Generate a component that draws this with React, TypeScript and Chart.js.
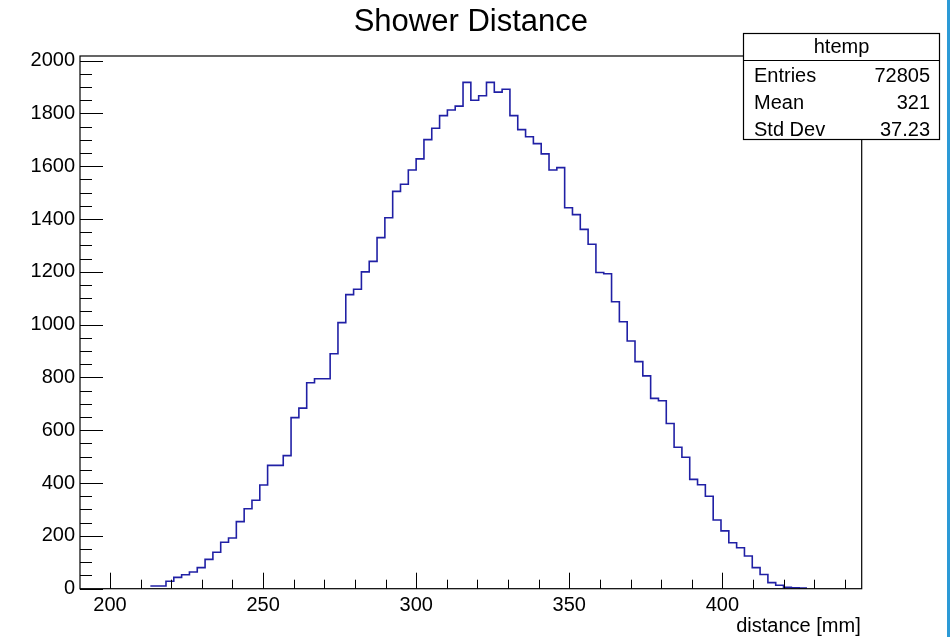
import React, { useEffect, useRef } from "react";
import { Chart, registerables } from "chart.js";

Chart.register(...registerables);

// ---- data ----
const titleText = "Shower Distance";
const xAxisTitle = "distance [mm]";
const xMin = 190.2;
const xMax = 445.5;
const nBins = 100;
const firstBin = 9;
const counts = [
  10, 10, 28, 43, 53, 63, 80, 111, 138, 176, 192, 254, 303, 335, 393, 467, 467, 504, 648, 684, 780,
  795, 795, 890, 1008, 1114, 1134, 1200, 1240, 1330, 1405, 1505, 1532, 1586, 1628, 1701, 1744, 1792, 1813, 1828,
  1918, 1850, 1867, 1918, 1881, 1892, 1792, 1739, 1712, 1686, 1647, 1586, 1595, 1443, 1417, 1361, 1305, 1198, 1193, 1087, 1011, 938, 860,
  806, 721, 712, 626, 536, 498, 414, 394, 350, 260, 219, 174, 155, 124, 80, 54, 23, 13, 5, 3, 2,
];
const yMax = 2017.8;
const xTicks = [200, 250, 300, 350, 400];
const yTicks = [0, 200, 400, 600, 800, 1000, 1200, 1400, 1600, 1800, 2000];
const xMinorStep = 10;
const yMinorStep = 50;
const statsName = "htemp";
const statsLabels = ["Entries", "Mean", "Std Dev"];
const statsValues = ["72805", "321", "37.23"];

const FONT = '"Liberation Sans", Arial, Helvetica, sans-serif';

export default function App() {
  const ref = useRef<HTMLCanvasElement | null>(null);

  useEffect(() => {
    const canvas = ref.current!;
    const binWidth = (xMax - xMin) / nBins;
    const pts = counts.map((c, i) => ({ x: xMin + (firstBin + i) * binWidth, y: c }));
    pts.push({ x: xMin + (firstBin + counts.length) * binWidth, y: counts[counts.length - 1] });

    const decor = {
      id: "rootDecor",
      beforeDraw(chart: any) {
        const ctx = chart.ctx;
        ctx.save();
        ctx.fillStyle = "#ffffff";
        ctx.fillRect(0, 0, chart.width, chart.height);
        ctx.restore();
      },
      afterDraw(chart: any) {
        const ctx = chart.ctx;
        const ca = chart.chartArea;
        const xs = chart.scales.x;
        const ys = chart.scales.y;
        ctx.save();
        // frame
        ctx.strokeStyle = "#000";
        ctx.lineWidth = 1.2;
        ctx.strokeRect(ca.left, ca.top, ca.right - ca.left, ca.bottom - ca.top);
        // y ticks
        ctx.lineWidth = 1;
        ctx.beginPath();
        for (let v = 0; v <= yMax + 1e-6; v += yMinorStep) {
          const y = Math.round(ys.getPixelForValue(v)) + 0.5;
          const major = yTicks.includes(v);
          ctx.moveTo(ca.left, y);
          ctx.lineTo(ca.left + (major ? 23 : 12), y);
        }
        // x ticks
        for (let v = Math.ceil(xMin / xMinorStep) * xMinorStep; v <= xMax; v += xMinorStep) {
          const x = Math.round(xs.getPixelForValue(v)) + 0.5;
          const major = xTicks.includes(v);
          ctx.moveTo(x, ca.bottom);
          ctx.lineTo(x, ca.bottom - (major ? 16 : 9));
        }
        ctx.stroke();

        // title
        ctx.fillStyle = "#000";
        ctx.font = `31px ${FONT}`;
        ctx.textAlign = "center";
        ctx.textBaseline = "alphabetic";
        ctx.fillText(titleText, (ca.left + ca.right) / 2, 31);

        // x axis title
        ctx.font = `20px ${FONT}`;
        ctx.textAlign = "right";
        ctx.fillText(xAxisTitle, ca.right - 1, 632);

        // stats box
        const bx = 743.5, by = 33.5, bw = 196, bh = 106;
        ctx.fillStyle = "#fff";
        ctx.fillRect(bx, by, bw, bh);
        ctx.strokeStyle = "#000";
        ctx.lineWidth = 1.2;
        ctx.strokeRect(bx, by, bw, bh);
        ctx.beginPath();
        ctx.moveTo(bx, 60.5);
        ctx.lineTo(bx + bw, 60.5);
        ctx.stroke();
        ctx.fillStyle = "#000";
        ctx.font = `20px ${FONT}`;
        ctx.textAlign = "center";
        ctx.fillText(statsName, bx + bw / 2, 53);
        const rowBase = [82, 109, 136];
        statsLabels.forEach((lab, i) => {
          ctx.textAlign = "left";
          ctx.fillText(lab, 754, rowBase[i]);
          ctx.textAlign = "right";
          ctx.fillText(statsValues[i], 930, rowBase[i]);
        });

        // right edge strip (window border)
        ctx.fillStyle = "#2c9ad6";
        ctx.fillRect(947, 0, 3, chart.height);
        ctx.restore();
      },
    };

    const chart = new Chart(canvas, {
      type: "line",
      data: {
        datasets: [
          {
            data: pts,
            stepped: "before",
            borderColor: "rgb(32,32,165)",
            borderWidth: 1.6,
            pointRadius: 0,
            fill: false,
            tension: 0,
          },
        ],
      },
      options: {
        animation: false,
        responsive: false,
        devicePixelRatio: 1,
        parsing: false,
        layout: { padding: { left: 0, top: 56, right: 88.3, bottom: 0 } },
        plugins: { legend: { display: false }, tooltip: { enabled: false }, title: { display: false } },
        scales: {
          x: {
            type: "linear",
            position: "bottom",
            min: xMin,
            max: xMax,
            grid: { display: false, drawTicks: false },
            border: { display: false },
            ticks: {
              includeBounds: false,
              padding: 5,
              color: "#000",
              font: { family: FONT, size: 20 },
              maxRotation: 0,
              callback: (v: any) => String(v),
            },
            afterBuildTicks: (s: any) => {
              s.ticks = xTicks.map((v) => ({ value: v }));
            },
            afterFit: (s: any) => {
              s.height = 48.3;
            },
          },
          y: {
            type: "linear",
            min: 0,
            max: yMax,
            grid: { display: false, drawTicks: false },
            border: { display: false },
            ticks: {
              includeBounds: false,
              padding: 5,
              color: "#000",
              font: { family: FONT, size: 20 },
              callback: (v: any) => String(v),
            },
            afterBuildTicks: (s: any) => {
              s.ticks = yTicks.map((v) => ({ value: v }));
            },
            afterFit: (s: any) => {
              s.width = 80;
            },
          },
        },
      },
      plugins: [decor],
    } as any);
    return () => chart.destroy();
  }, []);

  return (
    <div style={{ position: "fixed", left: 0, top: 0, width: 950, height: 637, background: "#fff" }}>
      <canvas ref={ref} width={950} height={637} style={{ width: 950, height: 637, display: "block" }} />
    </div>
  );
}
